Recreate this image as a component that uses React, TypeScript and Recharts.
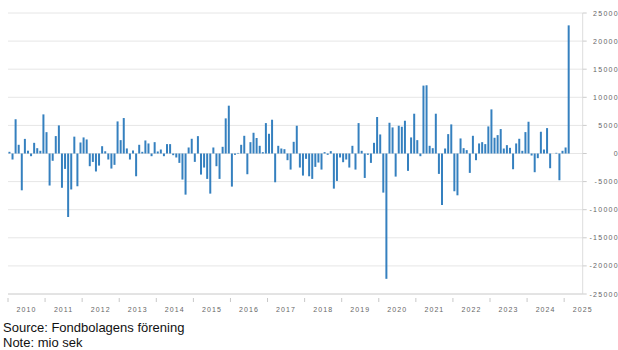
import React from 'react';
import { BarChart, Bar, XAxis, YAxis, CartesianGrid } from 'recharts';

// Monthly net flows to Swedish funds, mio SEK
const years = [2010, 2011, 2012, 2013, 2014, 2015, 2016, 2017, 2018, 2019, 2020, 2021, 2022, 2023, 2024, 2025];
const monthNames = ['01', '02', '03', '04', '05', '06', '07', '08', '09', '10', '11', '12'];
const lastMonth = '2025-06';

const netFlows = [
  300, -1070, 6100, 1550, -6550, 2600, 500, -480, 1900, 950, 480, 6960, // 2010
  3800, -5700, -1300, 3100, 5000, -6100, -2740, -11300, -6400, 3000, -5830, 1960, // 2011
  2860, 2500, -2260, -1500, -3200, -2150, 1300, 400, -1070, -2680, -2020, 5710, // 2012
  2380, 6310, 900, -1070, 540, -4050, 1550, 300, 2320, 1790, -480, 2020, // 2013
  360, 710, -480, 1670, 1670, -300, -710, -1670, -4640, -7320, 1070, 2620, // 2014
  -1490, 3090, -3750, -2500, -4520, -7140, 1070, -2260, -4520, 1190, 6250, 8510, // 2015
  -5890, -240, 100, 1550, 3150, -3690, 2020, 3690, 2740, 1370, 240, 5410, // 2016
  3510, 6010, -5120, 1370, 890, 770, -1190, -2860, 2080, 4940, -2500, -3930, // 2017
  -950, -4050, -4520, -2380, -1610, -2860, 240, -240, 420, -6250, -4880, -710, // 2018
  -1550, -1070, -2500, 1370, -2860, 5410, 480, -4350, -240, -1670, 1900, 6490, // 2019
  3390, -6960, -22300, 5470, 4640, -4110, 4940, 4760, 5830, -3090, 2860, 7080, // 2020
  2380, -480, 12080, 12140, 1370, 950, 7080, -3630, -9160, 890, 3450, 5180, // 2021
  -6720, -7440, 2680, 950, 600, -3450, 3150, -1190, 1790, 2020, 1670, 4820, // 2022
  7850, 2800, 3270, 4350, 890, 1490, 1010, -2800, 1790, 2620, 480, 3810, // 2023
  5650, -360, -3330, -830, 3870, 710, 4520, -2620, 0, 120, -4760, 480, // 2024
  1070, 22800, // 2025
];

const yTicks = [-25000, -20000, -15000, -10000, -5000, 0, 5000, 10000, 15000, 20000, 25000];

const months: string[] = [];
for (const y of years) {
  for (const m of monthNames) {
    const key = `${y}-${m}`;
    if (key > lastMonth) break;
    months.push(key);
  }
}

const data = months.map((month, i) => ({
  month,
  flow: i < netFlows.length ? netFlows[i] : null,
}));

const CHART_W = 618;
const CHART_H = 318;
const MARGIN = { top: 13, right: 0, left: 8, bottom: 0 };
const Y_AXIS_W = 35.3;
const X_AXIS_H = 24;
const PLOT_W = CHART_W - MARGIN.left - MARGIN.right - Y_AXIS_W;
const BAND = PLOT_W / months.length;

const FONT = "'Liberation Sans', Arial, Helvetica, sans-serif";
const LABEL_COLOR = '#666666';

const yearTicks = months.filter((m) => m.endsWith('-01'));

// Year labels sit in the middle of each year, tick marks on the year boundary
function YearTick(props: any) {
  const { x, y, payload } = props;
  const start = x - BAND / 2;
  return (
    <g>
      <line x1={start} x2={start} y1={y + 4} y2={y + 8} stroke="#c8c8c8" strokeWidth={1} />
      <text
        x={start + 6 * BAND}
        y={y + 15}
        textAnchor="middle"
        dominantBaseline="central"
        fill={LABEL_COLOR}
        fontSize={7}
        letterSpacing={1.1}
        fontFamily={FONT}
      >
        {String(payload.value).slice(0, 4)}
      </text>
    </g>
  );
}

function ValueTick(props: any) {
  const { y, payload } = props;
  return (
    <text
      x={CHART_W + 1}
      y={y}
      textAnchor="end"
      dominantBaseline="central"
      fill={LABEL_COLOR}
      fontSize={7}
      letterSpacing={1.3}
      fontFamily={FONT}
    >
      {payload.value}
    </text>
  );
}

export default function App() {
  return (
    <div
      style={{
        position: 'absolute',
        left: 0,
        top: 0,
        width: 618,
        height: 350,
        background: '#ffffff',
        fontFamily: FONT,
        overflow: 'hidden',
      }}
    >
      <BarChart width={CHART_W} height={CHART_H} data={data} margin={MARGIN} barCategoryGap="14%">
        <CartesianGrid vertical={false} stroke="#e6e6e6" />
        <XAxis
          dataKey="month"
          ticks={yearTicks}
          interval={0}
          height={X_AXIS_H}
          tickSize={0}
          tickMargin={0}
          tickLine={false}
          axisLine={{ stroke: '#d4d4d4' }}
          tick={<YearTick />}
        />
        <YAxis
          orientation="right"
          width={Y_AXIS_W}
          domain={[-25000, 25000]}
          ticks={yTicks}
          interval={0}
          tickSize={4}
          tickMargin={0}
          tickLine={{ stroke: '#cccccc' }}
          axisLine={{ stroke: '#dddddd' }}
          tick={<ValueTick />}
        />
        <Bar dataKey="flow" fill="#3580bf" isAnimationActive={false} />
      </BarChart>
      <div
        style={{
          position: 'absolute',
          left: 3,
          top: 321,
          fontSize: 13,
          lineHeight: '13px',
          color: '#111111',
          whiteSpace: 'nowrap',
        }}
      >
        Source: Fondbolagens förening
      </div>
      <div
        style={{
          position: 'absolute',
          left: 3,
          top: 336,
          fontSize: 13,
          lineHeight: '13px',
          color: '#111111',
          whiteSpace: 'nowrap',
        }}
      >
        Note: mio sek
      </div>
    </div>
  );
}
